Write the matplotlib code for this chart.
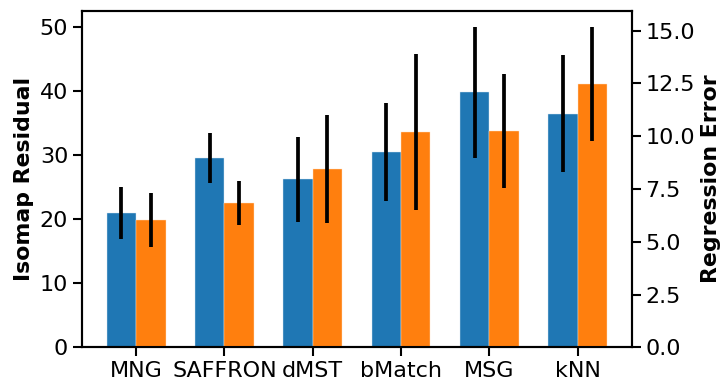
import matplotlib
matplotlib.use("Agg")
import matplotlib.pyplot as plt
import numpy as np

methods = ["MNG", "SAFFRON", "dMST", "bMatch", "MSG", "kNN"]
isomap_mean = [21.0, 29.6, 26.25, 30.5, 39.85, 36.5]
isomap_err = [4.0, 3.85, 6.6, 7.6, 10.2, 9.1]
regr_mean = [6.03, 6.83, 8.45, 10.18, 10.26, 12.47]
regr_err = [1.3, 1.03, 2.55, 3.7, 2.7, 2.7]

plt.rcParams['font.family'] = ['DejaVu Sans']
fig = plt.figure(figsize=(7.2, 3.81), dpi=100)
ax = fig.add_axes([0.1135, 0.0885, 0.7643, 0.8826])
ax2 = ax.twinx()

x = np.arange(len(methods))
w = 1 / 3
ax.bar(x - w / 2, isomap_mean, w, color="#1f77b4", edgecolor="#d8e6f2", linewidth=0.3)
ax.errorbar(x - w / 2, isomap_mean, yerr=isomap_err, fmt="none", ecolor="black", elinewidth=2.7, capsize=0)
ax2.bar(x + w / 2, regr_mean, w, color="#ff7f0e", edgecolor="#ffe0c4", linewidth=0.3)
ax2.errorbar(x + w / 2, regr_mean, yerr=regr_err, fmt="none", ecolor="black", elinewidth=2.7, capsize=0)

ax.set_xticks(x)
ax.set_xticklabels(methods)
ax.set_ylabel("Isomap Residual", fontsize=15.8, fontweight="bold")
ax2.set_ylabel("Regression Error", fontsize=15.8, fontweight="bold")
ax.set_yticks([0, 10, 20, 30, 40, 50])
ax2.set_yticks([0, 2.5, 5, 7.5, 10, 12.5, 15])
ax2.set_yticklabels(["0.0", "2.5", "5.0", "7.5", "10.0", "12.5", "15.0"])

for a in (ax, ax2):
    a.tick_params(labelsize=16, width=1.5, length=6.2)
    for s in a.spines.values():
        s.set_linewidth(1.5)

fig.savefig("out.png", dpi=100)
